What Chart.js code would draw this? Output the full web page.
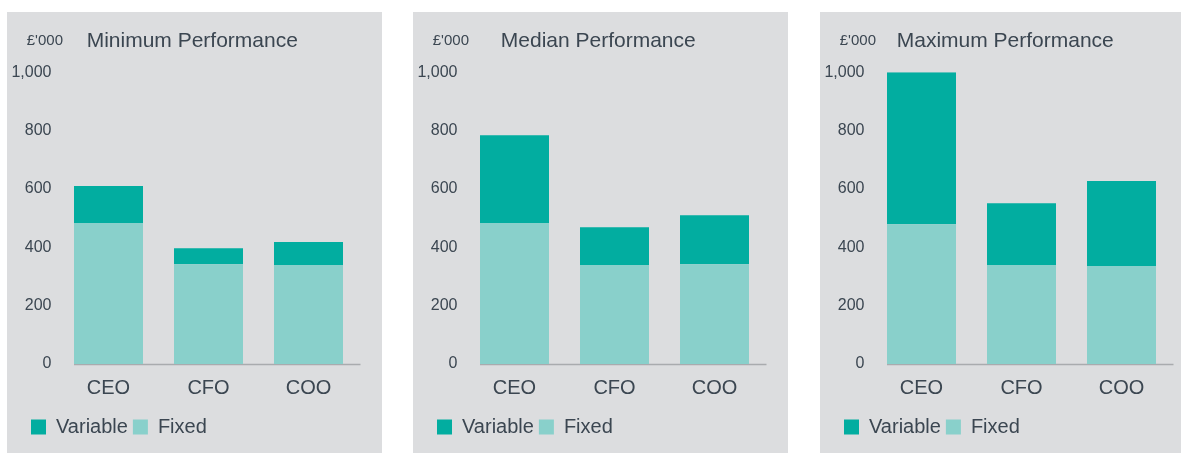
<!DOCTYPE html>
<html>
<head>
<meta charset="utf-8">
<script src="https://cdn.jsdelivr.net/npm/chart.js@4.4.0/dist/chart.umd.min.js"></script>
<style>
html, body { margin: 0; padding: 0; background: #fff; width: 1181px; height: 453px; overflow: hidden; position: relative; }
.panel { position: absolute; top: 12px; width: 375px; height: 441px; background: #dcdddf; }
</style>
</head>
<body>
<div class="panel" style="left:7px"><canvas id="chartMin" width="375" height="441"></canvas></div>
<div class="panel" style="left:413px"><canvas id="chartMed" width="375" height="441"></canvas></div>
<div class="panel" style="left:820px"><canvas id="chartMax" width="375" height="441"></canvas></div>
<script>
// values in £'000
var roles = ['CEO', 'CFO', 'COO'];

var fixedMin = [483, 342, 339];
var variableMin = [127, 55, 79];

var fixedMed = [483, 339, 342];
var variableMed = [301, 130, 168];

var fixedMax = [479, 339, 336];
var variableMax = [521, 212, 291];

var yMax = 1000;
var yStep = 200;
var unitLabel = "£'000";

var COLORS = {
	variable: '#02ada0',
	fixed: '#89d0cb',
	text: '#3b4651',
	axis: '#a9abae'
};
var FONT = "'Liberation Sans', Arial, Helvetica, sans-serif";

// grey base line that starts at the first bar, not at the chart area edge
var baseLine = {
	id: 'baseLine',
	beforeDatasetsDraw: function(chart) {
		var ctx = chart.ctx;
		var first = chart.getDatasetMeta(0).data[0];
		var y = chart.scales.y.getPixelForValue(0) + 0.5;
		ctx.save();
		ctx.strokeStyle = COLORS.axis;
		ctx.lineWidth = 1.5;
		ctx.beginPath();
		ctx.moveTo(first.x - first.width / 2, y);
		ctx.lineTo(chart.chartArea.right + 2, y);
		ctx.stroke();
		ctx.restore();
	}
};

// y labels hang out past the left padding, so widen the label clip box
var wideTicks = {
	id: 'wideTicks',
	afterLayout: function(chart) {
		chart.scales.y.left = 0;
	}
};

// the small unit caption left of the title
var unitCaption = {
	id: 'unitCaption',
	afterDraw: function(chart) {
		var ctx = chart.ctx;
		ctx.save();
		ctx.font = '15px ' + FONT;
		ctx.fillStyle = COLORS.text;
		ctx.textAlign = 'right';
		ctx.textBaseline = 'middle';
		ctx.fillText(unitLabel, 56, 29);
		ctx.restore();
	}
};

function makechart(canvasId, title, fixed, variable) {
	var ctx = document.getElementById(canvasId).getContext('2d');
	return new Chart(ctx, {
		type: 'bar',
		data: {
			labels: roles,
			datasets: [
				{ label: 'Fixed', data: fixed, backgroundColor: COLORS.fixed, borderWidth: 0 },
				{ label: 'Variable', data: variable, backgroundColor: COLORS.variable, borderWidth: 0 }
			]
		},
		options: {
			responsive: false,
			animation: false,
			layout: { padding: { left: 19, right: 23.5, top: 0, bottom: 6 } },
			datasets: { bar: { barPercentage: 0.69, categoryPercentage: 1 } },
			scales: {
				x: {
					stacked: true,
					grid: { display: false, drawTicks: false },
					border: { display: false },
					ticks: { color: COLORS.text, font: { family: FONT, size: 20 }, padding: 12 }
				},
				y: {
					stacked: true,
					min: 0,
					max: yMax,
					grid: { display: false, drawTicks: false },
					border: { display: false },
					ticks: {
						stepSize: yStep,
						color: COLORS.text,
						font: { family: FONT, size: 16 },
						padding: 7,
						callback: function(v) { return String(v).replace(/\B(?=(\d{3})+$)/g, ','); }
					},
					afterFit: function(scale) { scale.width = 32.5; }
				}
			},
			plugins: {
				title: {
					display: true,
					text: title,
					color: COLORS.text,
					font: { family: FONT, size: 21, weight: 'normal' },
					padding: { top: 17, bottom: 18 }
				},
				legend: {
					position: 'bottom',
					align: 'start',
					reverse: true,
					labels: {
						boxWidth: 15,
						boxHeight: 15,
						padding: 5,
						color: COLORS.text,
						font: { family: FONT, size: 20 }
					}
				},
				tooltip: { enabled: false }
			}
		},
		plugins: [baseLine, wideTicks, unitCaption]
	});
}

makechart('chartMin', 'Minimum Performance', fixedMin, variableMin);
makechart('chartMed', 'Median Performance', fixedMed, variableMed);
makechart('chartMax', 'Maximum Performance', fixedMax, variableMax);
</script>
</body>
</html>
